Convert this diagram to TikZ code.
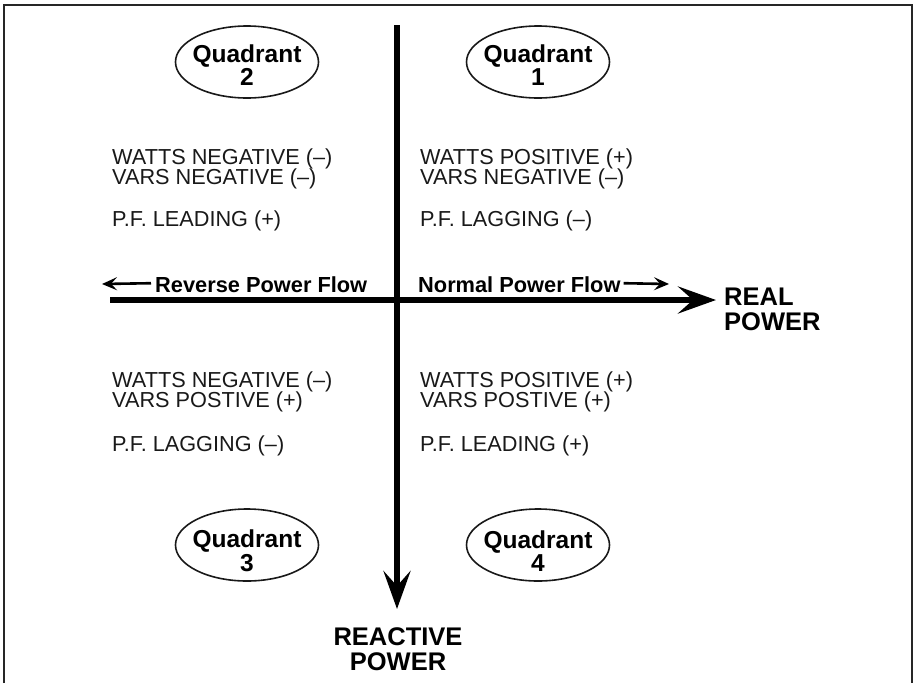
\documentclass[tikz,border=0pt]{standalone}
\usepackage{fontspec}
\setmainfont{Liberation Sans}
\usetikzlibrary{arrows.meta,shapes.geometric}
\begin{document}
\begin{tikzpicture}[x=1pt,y=-1pt,
  body/.style={anchor=base west,inner sep=0pt,text=black!90,font=\fontsize{21.7}{20}\selectfont},
  quad/.style={draw=black!90,line width=1.6pt,ellipse,minimum width=143pt,minimum height=72pt,inner sep=0pt},
  quadtext/.style={inner sep=0pt,align=center,font=\fontsize{24.5}{23.5}\selectfont\bfseries},
  flowlabel/.style={inner sep=0pt,anchor=base west,font=\fontsize{21.8}{21.8}\selectfont\bfseries},
  axislabel/.style={inner sep=0pt,align=left,font=\fontsize{25.5}{25}\selectfont\bfseries},
  axisline/.style={line width=6pt,-{Stealth[length=38pt,width=27pt,inset=15pt]}},
  smallarrow/.style={line width=2.6pt,-{Stealth[length=15pt,width=13pt,inset=6pt]}}]
\useasboundingbox (0,0) rectangle (915,683);
% frame (three sides)
\draw[black!85,line width=1.6pt] (4,683) -- (4,5) -- (912,5) -- (912,683);
% axes
\coordinate (hstart) at (110,300);
\coordinate (hend) at (716,300);
\coordinate (vstart) at (397,25);
\coordinate (vend) at (397,609);
\draw[axisline] (hstart) -- (hend);
\draw[axisline] (vstart) -- (vend);
% axis labels
\node[axislabel,anchor=north west] (real) at (724,288) {REAL\\POWER};
\node[axislabel,align=center,anchor=north] (reactive) at (398,627) {REACTIVE\\POWER};
% flow labels
\node[flowlabel] (rev) at (155,292) {Reverse Power Flow};
\node[flowlabel] (nor) at (418,292) {Normal Power Flow};
\coordinate (revtip) at (102,284);
\coordinate (nortip) at (669,284);
\draw[smallarrow] (rev.west) ++(-4,-1) coordinate (revstart) -- (revtip);
\draw[smallarrow] (nor.east) ++(3,-1) coordinate (norstart) -- (nortip);
% quadrant ellipses
\node[quad] (q2) at (247,62) {};
\node[quad] (q1) at (538,62) {};
\node[quad] (q3) at (247,545) {};
\node[quad] (q4) at (538,545) {};
\node[quadtext] (q2t) at ([yshift=-3pt]q2.center) {Quadrant\\2};
\node[quadtext] (q1t) at ([yshift=-3pt]q1.center) {Quadrant\\1};
\node[quadtext] (q3t) at ([yshift=-6pt]q3.center) {Quadrant\\3};
\node[quadtext] (q4t) at ([yshift=-6pt]q4.center) {Quadrant\\4};
% quadrant 2 text
\node[body] (q2a) at (112,164) {WATTS NEGATIVE (–)};
\node[body] (q2b) at (112,184) {VARS NEGATIVE (–)};
\node[body] (q2c) at (112,226) {P.F. LEADING (+)};
% quadrant 1 text
\node[body] (q1a) at (420,164) {WATTS POSITIVE (+)};
\node[body] (q1b) at (420,184) {VARS NEGATIVE (–)};
\node[body] (q1c) at (420,226) {P.F. LAGGING (–)};
% quadrant 3 text
\node[body] (q3a) at (112,387) {WATTS NEGATIVE (–)};
\node[body] (q3b) at (112,407) {VARS POSTIVE (+)};
\node[body] (q3c) at (112,451) {P.F. LAGGING (–)};
% quadrant 4 text
\node[body] (q4a) at (420,387) {WATTS POSITIVE (+)};
\node[body] (q4b) at (420,407) {VARS POSTIVE (+)};
\node[body] (q4c) at (420,451) {P.F. LEADING (+)};
\end{tikzpicture}
\end{document}
